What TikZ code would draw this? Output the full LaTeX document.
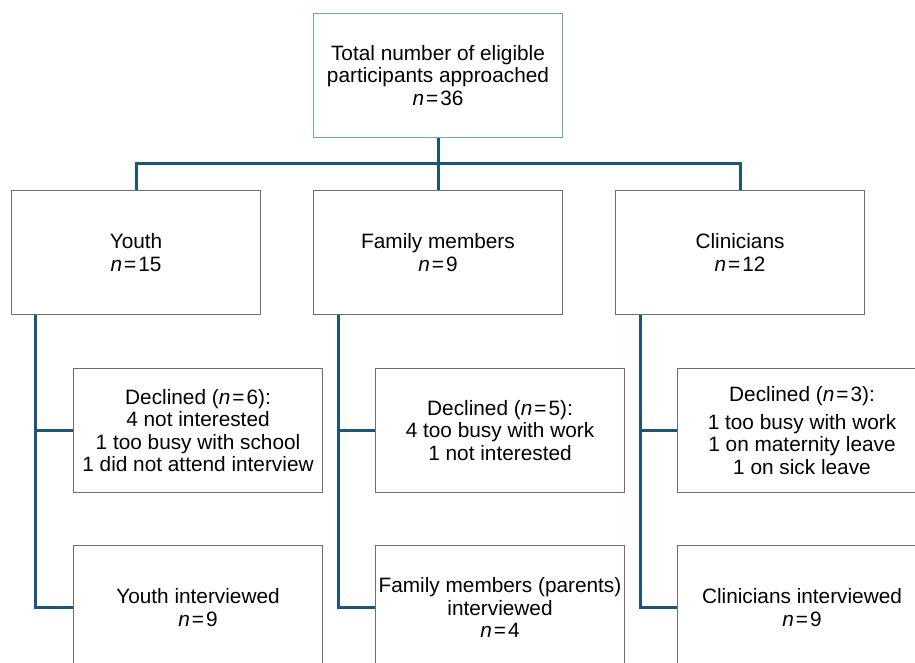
\documentclass[tikz,border=0pt]{standalone}
\usepackage{fontspec}
\setmainfont{Liberation Sans}
\newcommand{\nn}[1]{\textit{n}\kern2pt=\kern2pt#1}
\definecolor{conncol}{HTML}{1B5579}
\definecolor{topcol}{HTML}{6CA6C4}
\definecolor{boxcol}{HTML}{6E6E6E}
\begin{document}
\begin{tikzpicture}[x=1pt,y=-1pt,
  box/.style={draw=boxcol,line width=1pt,minimum width=249pt,minimum height=124pt,
    inner sep=0pt,align=center,font=\fontsize{20.8}{22.5}\selectfont,anchor=north west},
  topbox/.style={box,draw=topcol},
  conn/.style={draw=conncol,line width=3pt}]
\useasboundingbox (0,0) rectangle (915,663);
\begin{scope}
\clip (0,0) rectangle (915,663);
\node[topbox] (top) at (313,13) {Total number of eligible\\participants approached\\\nn{36}};
\node[box] (youth) at (11,190) {Youth\\\nn{15}};
\node[box] (fam) at (313,190) {Family members\\\nn{9}};
\node[box] (clin) at (615,190) {Clinicians\\\nn{12}};
\node[box] (ydecl) at (73,368) {Declined (\nn{6}):\\4 not interested\\1 too busy with school\\1 did not attend interview};
\node[box] (fdecl) at (375,368) {Declined (\nn{5}):\\4 too busy with work\\1 not interested};
\node[box] (cdecl) at (677,368) {Declined (\nn{3}):\\[5pt]1 too busy with work\\1 on maternity leave\\1 on sick leave};
\node[box] (yint) at (73,545) {Youth interviewed\\\nn{9}};
\node[box] (fint) at (375,545) {Family members (parents)\\interviewed\\\nn{4}};
\node[box] (cint) at (677,545) {Clinicians interviewed\\\nn{9}};
\coordinate (hub) at (437.5,164);
\coordinate (ty) at ([xshift=24pt]youth.south west);
\coordinate (tf) at ([xshift=25pt]fam.south west);
\coordinate (tc) at ([xshift=25pt]clin.south west);
\draw[conn] (top.south) -- (fam.north);
\draw[conn] (youth.north) -- (youth.north |- hub) -- (clin.north |- hub) -- (clin.north);
\draw[conn] (ty) |- (ydecl.west);
\draw[conn] (ty) |- (yint.west);
\draw[conn] (tf) |- (fdecl.west);
\draw[conn] (tf) |- (fint.west);
\draw[conn] (tc) |- (cdecl.west);
\draw[conn] (tc) |- (cint.west);
\end{scope}
\end{tikzpicture}
\end{document}
